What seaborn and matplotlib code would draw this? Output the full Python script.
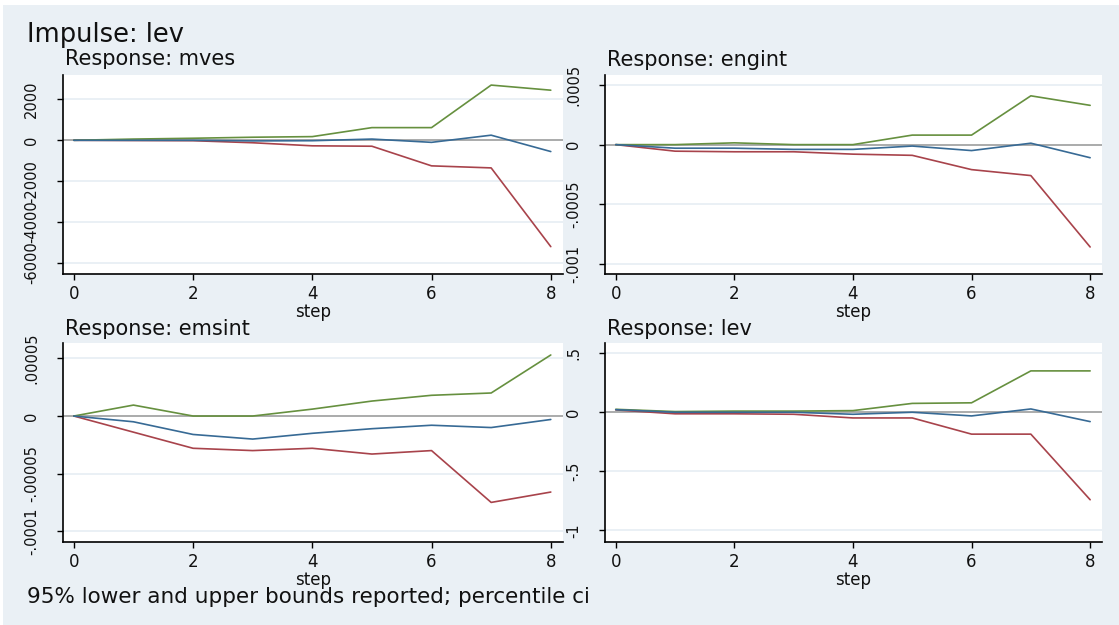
import matplotlib
matplotlib.use("Agg")
import matplotlib.pyplot as plt
from matplotlib.patches import Rectangle
import seaborn as sns
import pandas as pd

# Impulse-response of lev: point estimate with 95% percentile bounds
steps = [0, 1, 2, 3, 4, 5, 6, 7, 8]

mves_irf = [0, 0, 0, -30, -20, 60, -100, 250, -550]
mves_lower = [0, -10, -20, -120, -270, -290, -1250, -1350, -5200]
mves_upper = [0, 60, 100, 150, 180, 620, 620, 2700, 2450]

engint_irf = [0, -0.00003, -0.00003, -0.00004, -0.00004, -0.000012, -0.00005, 0.000012, -0.00011]
engint_lower = [0, -0.000055, -0.00006, -0.00006, -0.00008, -0.00009, -0.00021, -0.00026, -0.00086]
engint_upper = [0, 0, 0.000015, 0, 0, 0.00008, 0.00008, 0.00041, 0.00033]

emsint_irf = [0, -0.000005, -0.000016, -0.00002, -0.000015, -0.000011, -0.000008, -0.00001, -0.000003]
emsint_lower = [0, -0.000014, -0.000028, -0.00003, -0.000028, -0.000033, -0.00003, -0.000075, -0.000066]
emsint_upper = [0, 0.0000095, 0, 0, 0.000006, 0.000013, 0.000018, 0.00002, 0.000053]

lev_irf = [0.022, 0, 0, 0, -0.017, 0, -0.031, 0.028, -0.079]
lev_lower = [0.02, -0.013, -0.013, -0.017, -0.048, -0.048, -0.185, -0.185, -0.74]
lev_upper = [0.025, 0.006, 0.01, 0.01, 0.014, 0.075, 0.08, 0.35, 0.35]

responses = ["mves", "engint", "emsint", "lev"]
yticks = {
    "mves": [-6000, -4000, -2000, 0, 2000],
    "engint": [-0.001, -0.0005, 0, 0.0005],
    "emsint": [-0.0001, -0.00005, 0, 0.00005],
    "lev": [-1, -0.5, 0, 0.5],
}
ytick_labels = {
    "mves": ["-6000", "-4000", "-2000", "0", "2000"],
    "engint": ["-.001", "-.0005", "0", ".0005"],
    "emsint": ["-.0001", "-.00005", "0", ".00005"],
    "lev": ["-1", "-.5", "0", ".5"],
}
xticks = [0, 2, 4, 6, 8]

series = {
    "mves": (mves_irf, mves_lower, mves_upper),
    "engint": (engint_irf, engint_lower, engint_upper),
    "emsint": (emsint_irf, emsint_lower, emsint_upper),
    "lev": (lev_irf, lev_lower, lev_upper),
}

sns.set_style("white")
plt.rcParams["font.family"] = ["DejaVu Sans"]

W, H = 1119, 625
BG = "#eaf0f5"
INK = "#111111"
C_IRF = "#376a95"
C_LO = "#a8434b"
C_HI = "#66903f"

fig = plt.figure(figsize=(W / 100, H / 100), dpi=100)
fig.patch.set_facecolor("white")
fig.add_artist(Rectangle((3 / W, 0), 1 - 3 / W, 1 - 5 / H, transform=fig.transFigure,
                         facecolor=BG, edgecolor="none", zorder=-10))


def box(l, t, r, b):
    return [l / W, 1 - b / H, (r - l) / W, (b - t) / H]


panel_boxes = {
    "mves": (62.5, 75, 562.7, 274),
    "engint": (604.5, 75, 1102, 274),
    "emsint": (62.5, 343, 562.7, 541.7),
    "lev": (604.5, 343, 1102, 541.7),
}
ylims = {
    "mves": (-6538, 3193),
    "engint": (-0.001087, 0.000585),
    "emsint": (-0.0001091, 0.0000634),
    "lev": (-1.095, 0.586),
}
title_baselines = {"mves": 65, "engint": 66, "emsint": 335, "lev": 335}

for name in responses:
    l, t, r, b = panel_boxes[name]
    ax = fig.add_axes(box(l, t, r, b))
    ax.set_facecolor("white")
    irf, lo, hi = series[name]
    df = pd.DataFrame({"step": steps, "irf": irf, "lower": lo, "upper": hi})

    for tk in yticks[name]:
        ax.axhline(tk, color=BG, lw=1.4, zorder=0)
    ax.axhline(0, color="#a6a6a6", lw=1.3, zorder=1)

    sns.lineplot(data=df, x="step", y="irf", ax=ax, color=C_IRF, lw=1.2, zorder=3)
    sns.lineplot(data=df, x="step", y="lower", ax=ax, color=C_LO, lw=1.2, zorder=2)
    sns.lineplot(data=df, x="step", y="upper", ax=ax, color=C_HI, lw=1.2, zorder=2)

    ax.set_xlim(-0.19, 8.2)
    ax.set_ylim(*ylims[name])
    ax.set_xticks(xticks)
    ax.set_xticklabels([str(x) for x in xticks])
    ax.set_yticks(yticks[name])
    ax.set_yticklabels(ytick_labels[name], rotation=90, va="center")
    ax.set_ylabel("")
    ax.set_xlabel("step", fontsize=12, color=INK, labelpad=0)

    for side in ["top", "right"]:
        ax.spines[side].set_visible(False)
    for side in ["left", "bottom"]:
        ax.spines[side].set_color("black")
        ax.spines[side].set_linewidth(1.2)
    ax.tick_params(axis="y", direction="out", length=4, width=1, colors="black",
                   labelsize=10.5, pad=13, labelcolor=INK, left=True)
    ax.tick_params(axis="x", direction="out", length=4, width=1, colors="black",
                   labelsize=12, pad=4, labelcolor=INK, bottom=True)

    fig.text((l + 2.5) / W, 1 - title_baselines[name] / H, f"Response: {name}",
             fontsize=15, color=INK, va="baseline", ha="left")

fig.text(26.7 / W, 1 - 42 / H, "Impulse: lev", fontsize=18.5, color=INK,
         va="baseline", ha="left")
fig.text(27 / W, 1 - 603 / H, "95% lower and upper bounds reported; percentile ci",
         fontsize=15.5, color=INK, va="baseline", ha="left")

fig.savefig("out.png", dpi=100, facecolor=fig.get_facecolor())
